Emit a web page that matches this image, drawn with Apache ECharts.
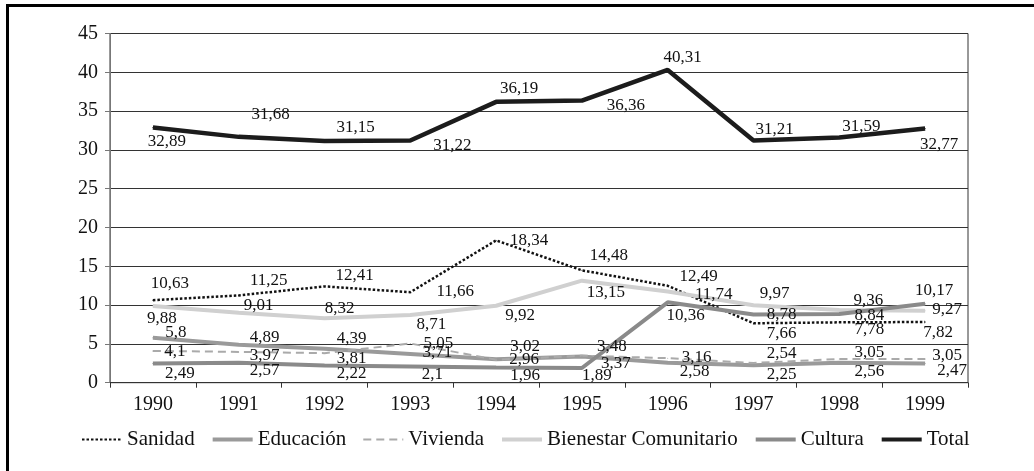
<!DOCTYPE html>
<html>
<head>
<meta charset="utf-8">
<script src="https://cdn.jsdelivr.net/npm/echarts@6/dist/echarts.min.js"></script>
<style>
  html, body { margin: 0; padding: 0; background: #fff; }
  #chart { width: 1034px; height: 471px; }
  #frame {
    position: absolute; left: 6px; top: 4px; width: 1100px; height: 520px;
    border-left: 3px solid #000; border-top: 3px solid #000; pointer-events: none;
  }
</style>
</head>
<body>
<div id="chart"></div>
<div id="frame"></div>
<script>
// Gasto por sector, 1990-1999 (%)
const years = ['1990', '1991', '1992', '1993', '1994', '1995', '1996', '1997', '1998', '1999'];
const sanidad    = [10.63, 11.25, 12.41, 11.66, 18.34, 14.48, 12.49, 7.66, 7.78, 7.82];
const educacion  = [5.8, 4.89, 4.39, 3.71, 3.02, 3.37, 2.58, 2.25, 2.56, 2.47];
const vivienda   = [4.1, 3.97, 3.81, 5.05, 2.96, 3.48, 3.16, 2.54, 3.05, 3.05];
const bienestar  = [9.88, 9.01, 8.32, 8.71, 9.92, 13.15, 11.74, 9.97, 9.36, 9.27];
const cultura    = [2.49, 2.57, 2.22, 2.1, 1.96, 1.89, 10.36, 8.78, 8.84, 10.17];
const total      = [32.89, 31.68, 31.15, 31.22, 36.19, 36.36, 40.31, 31.21, 31.59, 32.77];
const yTicks     = [0, 5, 10, 15, 20, 25, 30, 35, 40, 45];

// Label nudges (dx, dy in px) so the value labels sit clear of each other
const nudge = {
  sanidad:   [[17,-17],[30,-15],[30,-11],[45,-1],[33,0],[27,-15],[31,-9],[28,10],[30,7],[13,11]],
  educacion: [[23,-5],[26,-7],[27,-10],[27,-1],[29,-13],[34,7],[27,9],[28,9],[30,9],[27,7]],
  vivienda:  [[22,1],[26,4],[27,5],[28,0],[28,0],[30,-9],[29,-1],[28,-9],[30,-7],[22,-4]],
  bienestar: [[9,13],[20,-7],[15,-10],[21,9],[24,10],[24,12],[46,3],[21,-12],[29,-10],[22,-1]],
  cultura:   [[27,10],[26,8],[27,8],[22,8],[29,8],[15,7],[18,13],[28,0],[30,1],[9,-13]],
  total:     [[14,14],[32,-22],[31,-13],[42,5],[23,-13],[44,5],[15,-12],[21,-11],[22,-11],[14,16]]
};

const FONT = "'Liberation Serif', 'Times New Roman', serif";

function makeSeries(name, values, offsets, color, width, type) {
  return {
    name: name,
    type: 'line',
    data: values.map((v, i) => ({
      value: v,
      label: { offset: offsets[i] }
    })),
    symbol: 'circle',
    symbolSize: 1,
    showSymbol: true,
    itemStyle: { color: color },
    lineStyle: { color: color, width: width, type: type },
    label: {
      show: true,
      position: 'inside',
      align: 'center',
      verticalAlign: 'middle',
      fontFamily: FONT,
      fontSize: 17,
      color: '#111',
      formatter: p => String(p.value).replace('.', ',')
    },
    emphasis: { disabled: true },
    silent: true
  };
}

const legendItems = [
  { name: 'Sanidad', lineStyle: { width: 2 } },
  { name: 'Educación', lineStyle: { width: 4 } },
  { name: 'Vivienda', lineStyle: { width: 2 } },
  { name: 'Bienestar Comunitario', lineStyle: { width: 4 } },
  { name: 'Cultura', lineStyle: { width: 4 } },
  { name: 'Total', lineStyle: { width: 4 } }
];

const chart = echarts.init(document.getElementById('chart'), null, { renderer: 'canvas' });
chart.setOption({
  animation: false,
  backgroundColor: '#fff',
  grid: {
    left: 110, right: 66, top: 33.5, bottom: 88.3,
    show: true, borderColor: '#333', borderWidth: 1
  },
  legend: {
    left: 76, top: 424,
    itemWidth: 40, itemHeight: 14, itemGap: 16,
    itemStyle: { opacity: 0 },
    textStyle: { fontFamily: FONT, fontSize: 21, color: '#111' },
    data: legendItems
  },
  xAxis: {
    type: 'category',
    data: years,
    boundaryGap: true,
    axisLine: { lineStyle: { color: '#333', width: 1 } },
    axisTick: { show: true, inside: false, length: 5, alignWithLabel: false, lineStyle: { color: '#333' } },
    axisLabel: { fontFamily: FONT, fontSize: 20, color: '#111', margin: 12 },
    splitLine: { show: false }
  },
  yAxis: {
    type: 'value',
    min: yTicks[0],
    max: yTicks[yTicks.length - 1],
    interval: 5,
    axisLine: { show: true, lineStyle: { color: '#777', width: 1 } },
    axisTick: { show: true, length: 5, lineStyle: { color: '#777' } },
    axisLabel: { fontFamily: FONT, fontSize: 20, color: '#111', margin: 12 },
    splitLine: { show: true, lineStyle: { color: '#333', width: 1 } }
  },
  series: [
    makeSeries('Sanidad', sanidad, nudge.sanidad, '#111', 2.5, [2.5, 2]),
    makeSeries('Educación', educacion, nudge.educacion, '#9a9a9a', 4, 'solid'),
    makeSeries('Vivienda', vivienda, nudge.vivienda, '#aaaaaa', 2, [8, 5]),
    makeSeries('Bienestar Comunitario', bienestar, nudge.bienestar, '#d0d0d0', 4, 'solid'),
    makeSeries('Cultura', cultura, nudge.cultura, '#8a8a8a', 4, 'solid'),
    makeSeries('Total', total, nudge.total, '#1c1c1c', 4.5, 'solid')
  ]
});
</script>
</body>
</html>
